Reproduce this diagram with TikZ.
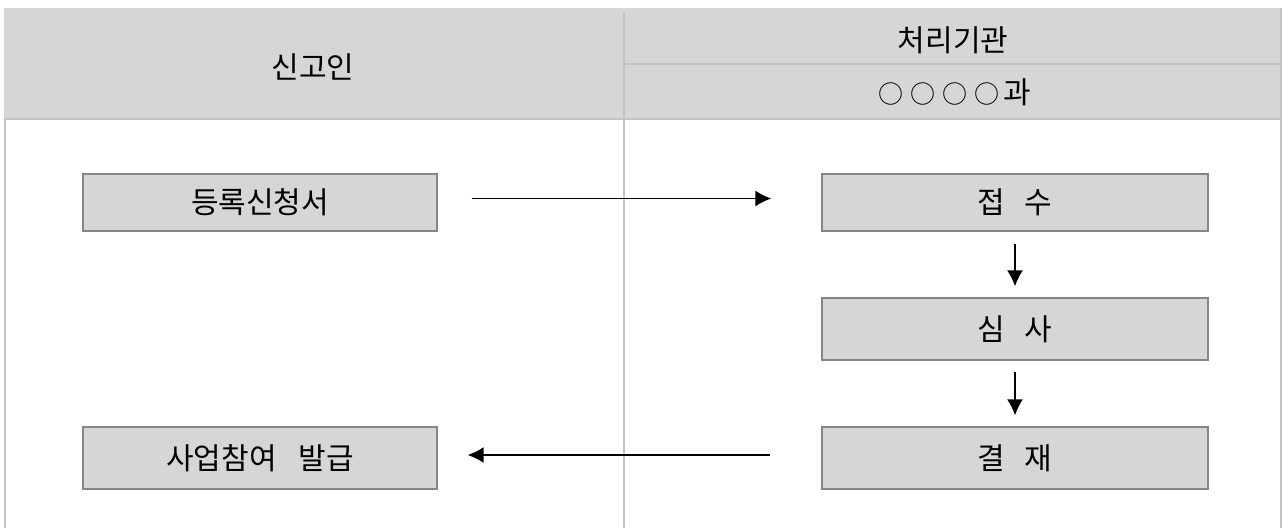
\documentclass[tikz,border=0pt]{standalone}
\usepackage{fontspec}
\setmainfont{Noto Sans CJK KR}
\usetikzlibrary{arrows.meta}
\definecolor{hdrgrey}{HTML}{D6D6D6}
\definecolor{boxgrey}{HTML}{D6D6D6}
\definecolor{boxedge}{HTML}{858585}
\definecolor{rulegrey}{HTML}{C4C4C4}
\newcommand{\wc}{{\fontsize{25}{28}\selectfont ○}}
\tikzset{
  flowbox/.style={draw=boxedge, fill=boxgrey, line width=1.3pt, inner sep=0pt,
    font=\fontsize{30}{34}\selectfont},
  hdrtext/.style={font=\fontsize{30}{34}\selectfont, inner sep=0pt},
  flowarrow/.style={line width=1.6pt, -{Latex[length=16pt,width=16pt]}},
  tablerule/.style={draw=rulegrey, line width=1.3pt}
}
\begin{document}
\begin{tikzpicture}[x=1pt,y=-1pt]
\useasboundingbox (0,0) rectangle (1284,528);
% header background
\fill[hdrgrey] (4,8) rectangle (1281,119);
% table rules
\draw[tablerule] (5,119) -- (5,528);
\draw[tablerule] (1281,8) -- (1281,528);
\draw[tablerule] (4,119) -- (1281,119);
\draw[tablerule] (624,64) -- (1281,64);
\draw[tablerule] (624,12) -- (624,528);
% header texts
\node[hdrtext] (h1) at (313,67) {신고인};
\node[hdrtext] (h2) at (953,40) {처리기관};
\node[hdrtext] (h3) at (955,92) {\wc\hspace{7pt}\wc\hspace{7pt}\wc\hspace{7pt}\wc\hspace{4pt}과};
% boxes
\node[flowbox, minimum width=354pt, minimum height=57pt] (reg) at (260,202.5) {등록신청서};
\node[flowbox, minimum width=386pt, minimum height=57pt] (rcv) at (1015,202.5) {접\hspace{19pt}수};
\node[flowbox, minimum width=386pt, minimum height=62pt] (rev) at (1015,329) {심\hspace{19pt}사};
\node[flowbox, minimum width=386pt, minimum height=62pt] (apv) at (1015,458) {결\hspace{19pt}재};
\node[flowbox, minimum width=354pt, minimum height=62pt] (iss) at (260,458) {사업참여\hspace{22pt}발급};
% connectors
\coordinate (a1s) at ([xshift=34pt,yshift=4pt]reg.east);
\coordinate (a1e) at ([xshift=-50pt,yshift=4pt]rcv.west);
\draw[flowarrow] (a1s) -- (a1e);
\draw[flowarrow, shorten <=12pt, shorten >=11pt] (rcv.south) -- (rev.north);
\draw[flowarrow, shorten <=11pt, shorten >=11pt] (rev.south) -- (apv.north);
\coordinate (a4s) at ([xshift=-51pt,yshift=3pt]apv.west);
\coordinate (a4e) at ([xshift=30pt,yshift=3pt]iss.east);
\draw[flowarrow] (a4s) -- (a4e);
\end{tikzpicture}
\end{document}
